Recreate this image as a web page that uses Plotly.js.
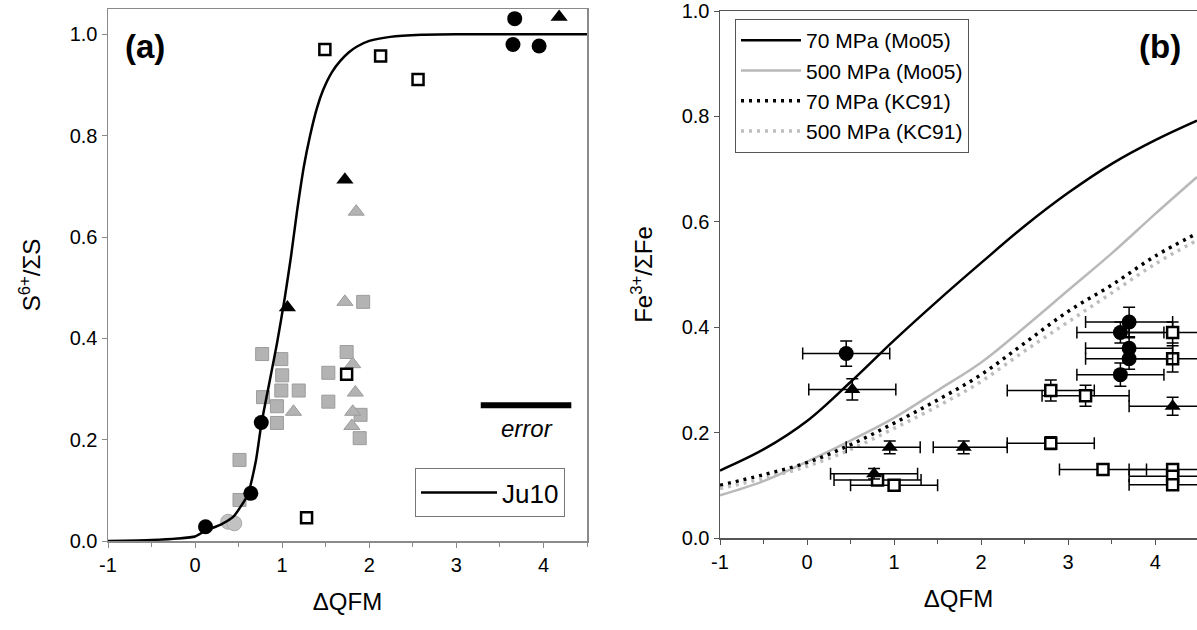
<!DOCTYPE html>
<html>
<head>
<meta charset="utf-8">
<script src="https://cdn.plot.ly/plotly-3.0.1.min.js"></script>
<style>html,body{margin:0;padding:0;overflow:hidden;background:#fff;}#chart{width:1197px;height:630px;}</style>
</head>
<body>
<div id="chart"></div>
<script>
// ---------- Panel (a) data ----------
const ju10X = [-1, -0.5, -0.2, 0, 0.115, 0.3, 0.44, 0.6, 0.7, 0.76, 0.85, 0.94, 1.03, 1.1, 1.17, 1.25, 1.32, 1.40, 1.47, 1.57, 1.67, 1.77, 1.86, 2.0, 2.24, 2.6, 3.0, 4.5];
const ju10Y = [0, 0.002, 0.005, 0.009, 0.02, 0.033, 0.048, 0.09, 0.16, 0.23, 0.31, 0.39, 0.48, 0.56, 0.65, 0.74, 0.80, 0.855, 0.89, 0.925, 0.948, 0.965, 0.976, 0.987, 0.995, 0.999, 1.0, 1.0];

const aBlackCircX = [0.12, 0.64, 0.76, 3.67, 3.65, 3.95];
const aBlackCircY = [0.028, 0.094, 0.234, 1.031, 0.980, 0.977];
const aBlackTriX = [1.06, 1.72, 4.18];
const aBlackTriY = [0.461, 0.713, 1.034];
const aOpenSqX = [1.49, 2.13, 2.56, 1.74, 1.28];
const aOpenSqY = [0.970, 0.957, 0.911, 0.329, 0.046];
const aGrayCircX = [0.38, 0.45];
const aGrayCircY = [0.038, 0.035];
const aGrayTriX = [1.85, 1.72, 1.81, 1.84, 1.13, 1.81, 1.80];
const aGrayTriY = [0.650, 0.472, 0.349, 0.293, 0.255, 0.255, 0.227];
const aGraySqX = [1.93, 0.77, 0.99, 1.00, 1.74, 1.53, 0.99, 1.19, 0.78, 0.94, 1.53, 1.90, 0.94, 1.89, 0.51, 0.51];
const aGraySqY = [0.472, 0.369, 0.359, 0.327, 0.373, 0.332, 0.297, 0.297, 0.284, 0.266, 0.275, 0.249, 0.233, 0.203, 0.160, 0.081];
const errBarX = [3.28, 4.32];
const errBarY = [0.268, 0.268];

// ---------- Panel (b) data ----------
const bCurveX = [-1, -0.5, 0, 0.5, 1, 1.5, 2, 2.5, 3, 3.5, 4, 4.48];
const mo70 = [0.128, 0.168, 0.222, 0.296, 0.375, 0.450, 0.522, 0.592, 0.655, 0.710, 0.755, 0.792];
const mo500 = [0.081, 0.108, 0.145, 0.185, 0.228, 0.280, 0.333, 0.400, 0.470, 0.540, 0.615, 0.685];
const kc70 = [0.100, 0.120, 0.143, 0.177, 0.218, 0.262, 0.310, 0.370, 0.430, 0.480, 0.535, 0.578];
const kc500 = [0.094, 0.113, 0.136, 0.168, 0.208, 0.250, 0.297, 0.355, 0.410, 0.465, 0.520, 0.565];

const bCircX = [0.45, 3.70, 3.60, 3.70, 3.70, 3.60];
const bCircY = [0.350, 0.410, 0.390, 0.360, 0.340, 0.310];
const bCircXerr = [0.5, 0.5, 0.5, 0.5, 0.5, 0.5];
const bCircYerr = [0.024, 0.028, 0.02, 0.02, 0.02, 0.022];
const bTriX = [0.52, 0.95, 1.80, 0.77, 4.20];
const bTriY = [0.282, 0.172, 0.172, 0.122, 0.250];
const bTriXerrPlus = [0.5, 0.35, 0.5, 0.5, 0.5];
const bTriXerrMinus = [0.5, 0.5, 0.35, 0.5, 0.5];
const bTriYerr = [0.02, 0.012, 0.012, 0.01, 0.017];
const bSqX = [0.81, 1.00, 2.80, 3.20, 2.80, 3.40, 4.20, 4.20, 4.20, 4.20, 4.20];
const bSqY = [0.110, 0.100, 0.280, 0.270, 0.180, 0.130, 0.390, 0.340, 0.130, 0.117, 0.101];
const bSqXerr = [0.5, 0.5, 0.5, 0.5, 0.5, 0.5, 0.5, 0.5, 0.5, 0.5, 0.5];
const bSqYerr = [0.01, 0.01, 0.02, 0.02, 0.012, 0.01, 0.02, 0.025, 0.01, 0.01, 0.01];

const xTickVals = [-1, 0, 1, 2, 3, 4];
const xTickText = ['-1', '0', '1', '2', '3', '4'];
const yTickVals = [0, 0.2, 0.4, 0.6, 0.8, 1.0];
const yTickText = ['0.0', '0.2', '0.4', '0.6', '0.8', '1.0'];

const FONT = 'Arial, "Liberation Sans", sans-serif';
const GRAYFILL = '#b3b3b3', GRAYLINE = '#9c9c9c';

const traces = [
  // panel (a)
  {x: aGraySqX, y: aGraySqY, type: 'scatter', mode: 'markers', xaxis: 'x', yaxis: 'y', showlegend: false,
   marker: {symbol: 'square', size: 13, color: GRAYFILL, line: {color: GRAYLINE, width: 1}}},
  {x: aGrayTriX, y: aGrayTriY, type: 'scatter', mode: 'markers', xaxis: 'x', yaxis: 'y', showlegend: false,
   marker: {symbol: 'triangle-up', size: 14, color: GRAYFILL, line: {color: GRAYLINE, width: 1}}},
  {x: aGrayCircX, y: aGrayCircY, type: 'scatter', mode: 'markers', xaxis: 'x', yaxis: 'y', showlegend: false,
   marker: {symbol: 'circle', size: 15, color: '#c2c2c2', line: {color: '#a8a8a8', width: 1}}},
  {x: ju10X, y: ju10Y, type: 'scatter', mode: 'lines', name: 'Ju10', xaxis: 'x', yaxis: 'y', legend: 'legend2',
   line: {color: '#000', width: 2.5, shape: 'spline', smoothing: 0.5}},
  {x: aBlackCircX, y: aBlackCircY, type: 'scatter', mode: 'markers', xaxis: 'x', yaxis: 'y', showlegend: false,
   marker: {symbol: 'circle', size: 15, color: '#000'}},
  {x: aBlackTriX, y: aBlackTriY, type: 'scatter', mode: 'markers', xaxis: 'x', yaxis: 'y', showlegend: false,
   marker: {symbol: 'triangle-up', size: 15, color: '#000'}},
  {x: aOpenSqX, y: aOpenSqY, type: 'scatter', mode: 'markers', xaxis: 'x', yaxis: 'y', showlegend: false,
   marker: {symbol: 'square', size: 11, color: '#fff', line: {color: '#000', width: 2.5}}},
  {x: errBarX, y: errBarY, type: 'scatter', mode: 'lines', xaxis: 'x', yaxis: 'y', showlegend: false,
   line: {color: '#000', width: 6}},
  // panel (b) curves
  {x: bCurveX, y: mo70, type: 'scatter', mode: 'lines', name: '70 MPa (Mo05)', xaxis: 'x2', yaxis: 'y2', legend: 'legend',
   line: {color: '#000', width: 2.5, shape: 'spline'}},
  {x: bCurveX, y: mo500, type: 'scatter', mode: 'lines', name: '500 MPa (Mo05)', xaxis: 'x2', yaxis: 'y2', legend: 'legend',
   line: {color: '#b9b9b9', width: 2.5, shape: 'spline'}},
  {x: bCurveX, y: kc70, type: 'scatter', mode: 'lines', name: '70 MPa (KC91)', xaxis: 'x2', yaxis: 'y2', legend: 'legend',
   line: {color: '#000', width: 3.5, dash: '3px,5px', shape: 'spline'}},
  {x: bCurveX, y: kc500, type: 'scatter', mode: 'lines', name: '500 MPa (KC91)', xaxis: 'x2', yaxis: 'y2', legend: 'legend',
   line: {color: '#bdbdbd', width: 3.5, dash: '3px,5px', shape: 'spline'}},
  // panel (b) data
  {x: bSqX, y: bSqY, type: 'scatter', mode: 'markers', xaxis: 'x2', yaxis: 'y2', showlegend: false,
   error_x: {type: 'data', array: bSqXerr, color: '#000', thickness: 1.5, width: 6},
   error_y: {type: 'data', array: bSqYerr, color: '#000', thickness: 1.5, width: 6},
   marker: {symbol: 'square', size: 11, color: '#fff', line: {color: '#000', width: 2.5}}},
  {x: bTriX, y: bTriY, type: 'scatter', mode: 'markers', xaxis: 'x2', yaxis: 'y2', showlegend: false,
   error_x: {type: 'data', array: bTriXerrPlus, arrayminus: bTriXerrMinus, color: '#000', thickness: 1.5, width: 6},
   error_y: {type: 'data', array: bTriYerr, color: '#000', thickness: 1.5, width: 6},
   marker: {symbol: 'triangle-up', size: 14, color: '#000'}},
  {x: bCircX, y: bCircY, type: 'scatter', mode: 'markers', xaxis: 'x2', yaxis: 'y2', showlegend: false,
   error_x: {type: 'data', array: bCircXerr, color: '#000', thickness: 1.5, width: 6},
   error_y: {type: 'data', array: bCircYerr, color: '#000', thickness: 1.5, width: 6},
   marker: {symbol: 'circle', size: 15, color: '#000'}}
];

const axBase = {
  showgrid: false, zeroline: false, ticks: 'outside', ticklen: 5, tickwidth: 1,
  tickfont: {family: FONT, size: 20, color: '#000'}, showline: true, linewidth: 1.5
};

const layout = {
  width: 1197, height: 630,
  margin: {l: 0, r: 0, t: 0, b: 0},
  paper_bgcolor: '#fff', plot_bgcolor: '#fff',
  font: {family: FONT, color: '#000'},
  xaxis: Object.assign({}, axBase, {
    domain: [108/1197, 587/1197], range: [-1, 4.5], anchor: 'y',
    tickvals: xTickVals, ticktext: xTickText, linecolor: '#8a8a8a', tickcolor: '#8a8a8a', mirror: true,
    minor: {dtick: 0.5, tick0: -1, ticks: 'outside', ticklen: 4, tickcolor: '#8a8a8a'},
    title: {text: 'ΔQFM', font: {family: FONT, size: 24}, standoff: 18}
  }),
  yaxis: Object.assign({}, axBase, {
    domain: [(630-541)/630, (630-9)/630], range: [0, 1.05], anchor: 'x',
    tickvals: yTickVals, ticktext: yTickText, linecolor: '#8a8a8a', tickcolor: '#8a8a8a', mirror: true,
    title: {text: 'S<sup>6+</sup>/ΣS', font: {family: FONT, size: 24}, standoff: 22}
  }),
  xaxis2: Object.assign({}, axBase, {
    domain: [720/1197, 1], range: [-1, 4.48], anchor: 'y2',
    tickvals: xTickVals, ticktext: xTickText, linecolor: '#555', tickcolor: '#555', mirror: true,
    minor: {dtick: 0.5, tick0: -1, ticks: 'outside', ticklen: 4, tickcolor: '#555'},
    title: {text: 'ΔQFM', font: {family: FONT, size: 24}, standoff: 18}
  }),
  yaxis2: Object.assign({}, axBase, {
    domain: [(630-538)/630, (630-11)/630], range: [0, 1.0], anchor: 'x2',
    tickvals: yTickVals, ticktext: yTickText, linecolor: '#555', tickcolor: '#555',
    title: {text: 'Fe<sup>3+</sup>/ΣFe', font: {family: FONT, size: 24}, standoff: 22}
  }),
  legend: {
    x: 735/1197, y: (630-19)/630, xanchor: 'left', yanchor: 'top',
    bgcolor: '#fff', bordercolor: '#555', borderwidth: 1,
    font: {family: FONT, size: 21, color: '#000'}, itemwidth: 60, tracegroupgap: 0
  },
  legend2: {
    x: 415/1197, y: (630-468)/630, xanchor: 'left', yanchor: 'top',
    bgcolor: '#fff', bordercolor: '#777', borderwidth: 1,
    font: {family: FONT, size: 26, color: '#000'}, itemwidth: 76
  },
  annotations: [
    {text: '<b>(a)</b>', xref: 'paper', yref: 'paper', x: 145/1197, y: (630-47)/630, xanchor: 'center', yanchor: 'middle',
     showarrow: false, font: {family: FONT, size: 33, color: '#000'}},
    {text: '<b>(b)</b>', xref: 'paper', yref: 'paper', x: 1160/1197, y: (630-47)/630, xanchor: 'center', yanchor: 'middle',
     showarrow: false, font: {family: FONT, size: 33, color: '#000'}},
    {text: '<i>error</i>', xref: 'x', yref: 'y', x: 3.81, y: 0.222, xanchor: 'center', yanchor: 'middle',
     showarrow: false, font: {family: FONT, size: 24, color: '#000'}}
  ]
};

Plotly.newPlot('chart', traces, layout, {displayModeBar: false, staticPlot: true});
</script>
</body>
</html>
